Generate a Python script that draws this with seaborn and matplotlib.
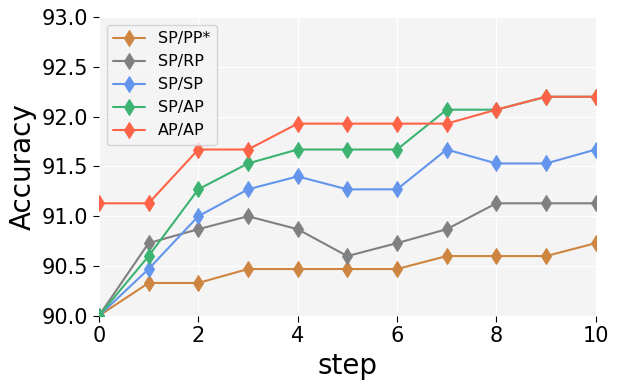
import pandas as pd
import matplotlib
matplotlib.use("Agg")
import matplotlib.pyplot as plt
import seaborn as sns

# -----------------------------------
# DATA
# -----------------------------------

steps = list(range(11))
sp_pp = [90.0, 90.33, 90.33, 90.47, 90.47, 90.47, 90.47, 90.6, 90.6, 90.6, 90.73]
sp_rp = [90.0, 90.73, 90.87, 91.0, 90.87, 90.6, 90.73, 90.87, 91.13, 91.13, 91.13]
sp_sp = [90.0, 90.47, 91.0, 91.27, 91.4, 91.27, 91.27, 91.67, 91.53, 91.53, 91.67]
sp_ap = [90.0, 90.6, 91.27, 91.53, 91.67, 91.67, 91.67, 92.07, 92.07, 92.2, 92.2]
ap_ap = [91.13, 91.13, 91.67, 91.67, 91.93, 91.93, 91.93, 91.93, 92.07, 92.2, 92.2]

labels = ["SP/PP*", "SP/RP", "SP/SP", "SP/AP", "AP/AP"]
colors = ["peru", "gray", "cornflowerblue", "mediumseagreen", "tomato"]
series = [sp_pp, sp_rp, sp_sp, sp_ap, ap_ap]

# -----------------------------------
# PLOT
# -----------------------------------

sns.set_style("whitegrid", {"axes.facecolor": "#f4f4f4", "grid.color": "white",
                            "text.color": "black", "axes.labelcolor": "black",
                            "xtick.color": "black", "ytick.color": "black"})

fig, ax = plt.subplots(figsize=(6.18, 3.88), dpi=100)
fig.subplots_adjust(left=0.160, right=0.964, top=0.956, bottom=0.186)

for label, color, vals in zip(labels, colors, series):
    df = pd.DataFrame({"step": steps, "Accuracy": vals})
    sns.lineplot(data=df, x="step", y="Accuracy", ax=ax, color=color, label=label,
                 marker="d", markersize=8.5, markeredgecolor=color, linewidth=1.5)

# markers on the axes edges get cut off like in the original
for line in ax.lines:
    line.set_clip_on(True)
    line.set_clip_path(ax.patch)

ax.set_xlim(0, 10)
ax.set_ylim(90, 93)
ax.set_xticks([0, 2, 4, 6, 8, 10])
ax.set_yticks([90.0, 90.5, 91.0, 91.5, 92.0, 92.5, 93.0])
ax.set_yticklabels([f"{v:.1f}" for v in ax.get_yticks()])
ax.tick_params(axis="both", labelsize=15, length=4, width=0.8, color="black",
               labelcolor="black", left=True, bottom=True)
ax.set_xlabel("step", fontsize=20, color="black")
ax.set_ylabel("Accuracy", fontsize=20, color="black")
for s in ax.spines.values():
    s.set_visible(False)

leg = ax.legend(loc="upper left", fontsize=11.5)
for t in leg.get_texts():
    t.set_color("black")

plt.savefig("out.png")
